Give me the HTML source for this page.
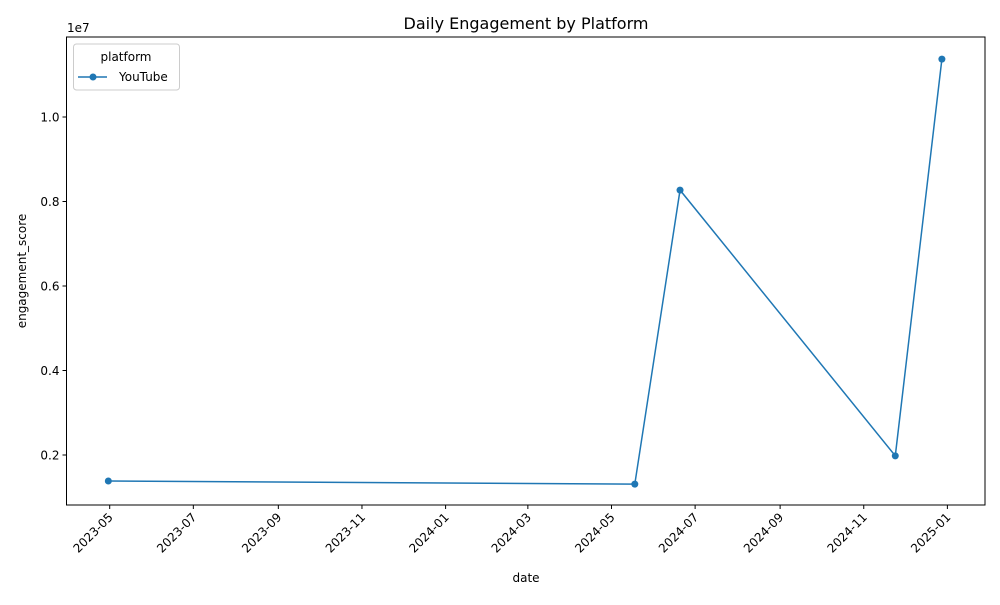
<!DOCTYPE html>
<html><head><meta charset="utf-8"><style>
body{margin:0;background:#fff;font-family:"Liberation Sans","DejaVu Sans",sans-serif}
svg text{font-family:"DejaVu Sans","Liberation Sans",sans-serif}
</style></head><body>
<svg id="c" width="1000" height="600" viewBox="0 0 1000 600"></svg>
<script>
const dates=["2023-04-30","2024-05-18","2024-06-20","2024-11-24","2024-12-28"];
const values=[1385000,1310000,8270000,1980000,11370000];
const xTicks=["2023-05","2023-07","2023-09","2023-11","2024-01","2024-03","2024-05","2024-07","2024-09","2024-11","2025-01"];
const yTicks=[0.2,0.4,0.6,0.8,1.0];
const L=66.5,R=985,T=37,B=505;
const d0=Date.UTC(2023,4,1);
function X(s){const p=s.split('-').map(Number);const t=Date.UTC(p[0],p[1]-1,p[2]||1);return 109.7+(t-d0)/864e5*1.371;}
function Y(v){return 539.5-v/1e6*42.25;}
const svg=document.getElementById('c');const NS='http://www.w3.org/2000/svg';
function el(tag,a,txt){const e=document.createElementNS(NS,tag);for(const k in a)e.setAttribute(k,a[k]);if(txt!=null)e.textContent=txt;svg.appendChild(e);return e;}
let e;
e=el('text',{x:526,y:29,'font-size':16,'text-anchor':'middle'},'Daily Engagement by Platform');


e=el('rect',{x:L,y:T,width:R-L,height:B-T,fill:'none',stroke:'#000','stroke-width':1});


xTicks.forEach(t=>{const x=X(t);
 e=el('line',{x1:x,x2:x,y1:B,y2:B+4,stroke:'#000'});
 
 
 e=el('text',{x:0,y:0,'font-size':12,'text-anchor':'end',transform:`translate(${x+4},${B+13}) rotate(-45)`},t);
 
 
});
yTicks.forEach(t=>{const y=Y(t*1e7);
 e=el('line',{x1:L-4,x2:L,y1:y,y2:y,stroke:'#000'});
 
 
 e=el('text',{x:L-7,y:y+4.5,'font-size':12,'text-anchor':'end'},t.toFixed(1));
 
 
});
e=el('text',{x:67,y:32,'font-size':12},'1e7');


e=el('text',{x:526,y:582,'font-size':12,'text-anchor':'middle'},'date');


e=el('text',{x:0,y:0,'font-size':12,'text-anchor':'middle',transform:'translate(26,271) rotate(-90)'},'engagement_score');


e=el('polyline',{points:dates.map((d,i)=>X(d)+','+Y(values[i])).join(' '),fill:'none',stroke:'#1f77b4','stroke-width':1.5});


dates.forEach((d,i)=>{e=el('circle',{cx:X(d),cy:Y(values[i]),r:3.5,fill:'#1f77b4'});
 
 });
e=el('rect',{x:73.5,y:44,width:106,height:46,rx:3,fill:'#fff',stroke:'#ccc'});


e=el('text',{x:126,y:61,'font-size':12,'text-anchor':'middle'},'platform');


e=el('line',{x1:78,x2:107,y1:77,y2:77,stroke:'#1f77b4','stroke-width':1.5});


e=el('circle',{cx:93,cy:77,r:3.5,fill:'#1f77b4'});


e=el('text',{x:119,y:81,'font-size':12},'YouTube');


</script>
</body></html>
